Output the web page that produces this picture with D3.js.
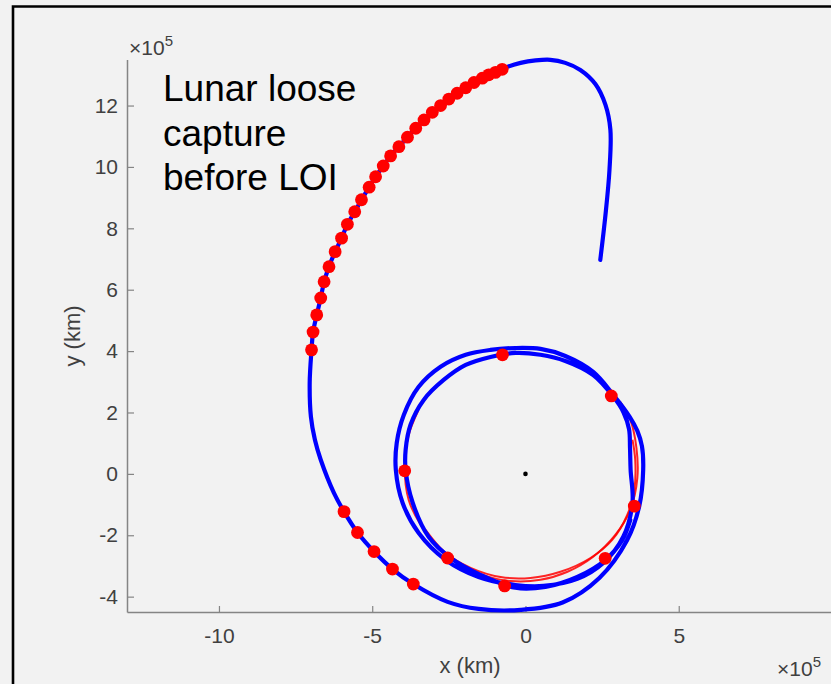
<!DOCTYPE html>
<html>
<head>
<meta charset="utf-8">
<script src="https://cdn.jsdelivr.net/npm/d3@7"></script>
<style>
  html, body { margin: 0; padding: 0; background: #f2f2f2; }
  svg { display: block; }
</style>
</head>
<body>
<svg id="chart" width="831" height="684"></svg>
<script>
// ---- Data (units of 1e5 km) ----
const xTicks = [-10, -5, 0, 5];
const yTicks = [-4, -2, 0, 2, 4, 6, 8, 10, 12];
const xDomain = [-13, 10];
const yDomain = [-4.5, 13.5];

// free end of the trajectory up to the first marker
const tailPath = [
  [2.44, 6.97], [2.61, 8.44], [2.74, 9.90], [2.77, 11.21], [2.61, 12.02],
  [2.28, 12.70], [1.79, 13.16], [1.30, 13.39], [0.81, 13.49], [0.33, 13.47],
  [-0.16, 13.39], [-0.59, 13.26]
];
// dense markers along the approach arc
const upperMarkers = [
  [-0.76, 13.18], [-0.98, 13.08], [-1.20, 13.00], [-1.41, 12.89], [-1.68, 12.75],
  [-1.95, 12.58], [-2.23, 12.40], [-2.50, 12.21], [-2.77, 12.00], [-3.04, 11.78],
  [-3.31, 11.53], [-3.58, 11.26], [-3.85, 10.97], [-4.13, 10.66], [-4.40, 10.36],
  [-4.64, 10.03], [-4.89, 9.68], [-5.10, 9.34], [-5.35, 8.93], [-5.57, 8.54],
  [-5.81, 8.13], [-6.00, 7.68], [-6.21, 7.24], [-6.41, 6.75], [-6.57, 6.26],
  [-6.68, 5.73], [-6.81, 5.18], [-6.93, 4.62], [-6.98, 4.04]
];
const midPath = [
  [-7.04, 2.96], [-7.00, 1.86], [-6.87, 1.11], [-6.68, 0.46], [-6.25, -0.62]
];
const lowerMarkers = [
  [-5.92, -1.23], [-5.48, -1.91], [-4.94, -2.53], [-4.34, -3.10], [-3.66, -3.59]
];
// capture loops around the Moon
const loopPath = [
  [-2.54, -4.17], [-1.53, -4.40], [-0.16, -4.43], [1.21, -4.19], [2.41, -3.39],
  [3.31, -2.17], [3.71, -1.06], [3.84, 0.13],
  [3.80, 0.90], [3.65, 1.40], [3.40, 1.86], [2.87, 2.57], [2.21, 3.32],
  [1.30, 3.84], [0.49, 4.07], [-0.33, 4.10], [-1.14, 4.04], [-1.95, 3.88],
  [-2.77, 3.49], [-3.49, 2.83], [-3.97, 1.92], [-4.20, 1.01], [-4.23, 0.13],
  [-4.01, -0.94], [-3.49, -1.92], [-2.61, -2.80], [-1.53, -3.36], [-0.33, -3.62],
  [0.59, -3.65], [1.69, -3.42], [2.54, -2.90], [3.19, -2.05], [3.49, -0.94],
  [3.43, 0.13], [3.41, 0.85], [3.38, 1.45], [3.20, 2.00], [2.87, 2.51], [2.21, 3.22],
  [1.30, 3.68], [0.49, 3.88], [-0.33, 3.94], [-1.14, 3.81], [-1.95, 3.55],
  [-2.67, 3.06], [-3.32, 2.41], [-3.75, 1.60], [-3.91, 0.78], [-3.91, 0.13],
  [-3.68, -0.94], [-3.16, -2.05], [-2.44, -2.74], [-1.47, -3.29], [-0.33, -3.71],
  [0.65, -3.68], [1.69, -3.36], [2.61, -2.80], [3.16, -2.15], [3.42, -1.50]
];
const loopMarkers = [
  [-0.75, 3.88], [2.80, 2.54], [-3.94, 0.10], [-2.54, -2.74],
  [-0.68, -3.65], [3.55, -1.05], [2.60, -2.75]
];
// thin red arcs
const redArcA = [
  [-3.49, 2.08], [-3.81, 1.27], [-3.94, 0.29], [-3.81, -0.85], [-3.42, -1.66],
  [-2.87, -2.38], [-2.21, -2.90], [-1.40, -3.29], [-0.49, -3.49], [0.49, -3.45],
  [1.37, -3.19], [2.21, -2.70], [2.93, -1.99], [3.42, -1.17], [3.65, -0.13],
  [3.62, 0.85], [3.42, 1.76], [3.09, 2.35]
];
const redArcB = [
  [-3.26, -1.82], [-2.61, -2.57], [-1.79, -3.06], [-0.81, -3.36], [0.16, -3.39],
  [1.14, -3.19], [2.12, -2.74], [2.83, -2.15], [3.32, -1.34], [3.55, -0.52],
  [3.58, 0.46], [3.49, 1.11]
];
const moonCenter = [[0, 0]];
const annotation = ["Lunar loose", "capture", "before LOI"];

// ---- Drawing ----
const svg = d3.select("#chart");
const W = 831, H = 684;
const plot = { left: 127, right: 832, top: 59.5, bottom: 612 };

svg.append("rect").attr("width", W).attr("height", H).attr("fill", "#f2f2f2");

const x = d3.scaleLinear().domain(xDomain).range([plot.left, plot.right]);
const y = d3.scaleLinear().domain(yDomain).range([plot.bottom, plot.top]);

const axisColor = "#858585";
const textColor = "#404040";
const font = "'Liberation Sans', Arial, Helvetica, sans-serif";

// axes
const gx = svg.append("g").attr("transform", `translate(0,${plot.bottom})`)
  .call(d3.axisBottom(x).tickValues(xTicks).tickSizeInner(-6).tickSizeOuter(0).tickPadding(16)
    .tickFormat(d => String(d)));
const gy = svg.append("g").attr("transform", `translate(${plot.left},0)`)
  .call(d3.axisLeft(y).tickValues(yTicks).tickSizeInner(-7).tickSizeOuter(0).tickPadding(9)
    .tickFormat(d => String(d)));
[gx, gy].forEach(g => {
  g.select(".domain").attr("stroke", axisColor).attr("stroke-width", 1.5);
  g.selectAll(".tick line").attr("stroke", axisColor).attr("stroke-width", 1.2);
  g.selectAll(".tick text").attr("fill", textColor).attr("font-size", 21)
    .attr("font-family", font);
});

// axis labels
svg.append("text").attr("x", 470).attr("y", 673).attr("text-anchor", "middle")
  .attr("font-family", font).attr("font-size", 22).attr("fill", textColor).text("x (km)");
svg.append("text").attr("transform", "translate(80,336) rotate(-90)").attr("text-anchor", "middle")
  .attr("font-family", font).attr("font-size", 22).attr("fill", textColor).text("y (km)");

// exponent labels
function expLabel(px, py) {
  const t = svg.append("text").attr("x", px).attr("y", py)
    .attr("font-family", font).attr("fill", textColor).attr("font-size", 21);
  t.append("tspan").text("\u00d710");
  t.append("tspan").attr("dy", -9).attr("font-size", 15).text("5");
}
expLabel(129, 55);
expLabel(777, 676);

// plot clip
svg.append("clipPath").attr("id", "clip").append("rect")
  .attr("x", plot.left).attr("y", plot.top - 20)
  .attr("width", plot.right - plot.left).attr("height", plot.bottom - plot.top + 22);
const g = svg.append("g").attr("clip-path", "url(#clip)");

const line = d3.line().x(d => x(d[0])).y(d => y(d[1])).curve(d3.curveCatmullRom.alpha(0.5));

// red thin arcs
[redArcA, redArcB].forEach(arc => {
  g.append("path").attr("d", line(arc)).attr("fill", "none")
    .attr("stroke", "#ff0000").attr("stroke-width", 2).attr("stroke-opacity", 0.85);
});

// blue trajectory
const trajectory = tailPath.concat(upperMarkers, midPath, lowerMarkers, loopPath);
g.append("path").attr("d", line(trajectory)).attr("fill", "none")
  .attr("stroke", "#0000ff").attr("stroke-width", 4.2).attr("stroke-linejoin", "round")
  .attr("stroke-linecap", "round");

// red markers
g.selectAll("circle.mk").data(upperMarkers.concat(lowerMarkers, loopMarkers)).enter()
  .append("circle").attr("class", "mk")
  .attr("cx", d => x(d[0])).attr("cy", d => y(d[1])).attr("r", 6.4)
  .attr("fill", "#ff0000");

// Moon centre
g.selectAll("circle.moon").data(moonCenter).enter().append("circle").attr("class", "moon")
  .attr("cx", d => x(d[0])).attr("cy", d => y(d[1])).attr("r", 2.3).attr("fill", "#000");

// annotation
const ann = svg.append("text").attr("font-family", font).attr("font-size", 37).attr("fill", "#000");
annotation.forEach((s, i) => {
  ann.append("tspan").attr("x", 163).attr("y", 101 + i * 44.5).text(s);
});

// frame
svg.append("path").attr("d", `M13,${H} L13,6.5 L${W},6.5`).attr("fill", "none")
  .attr("stroke", "#000").attr("stroke-width", 2.6);
</script>
</body>
</html>
